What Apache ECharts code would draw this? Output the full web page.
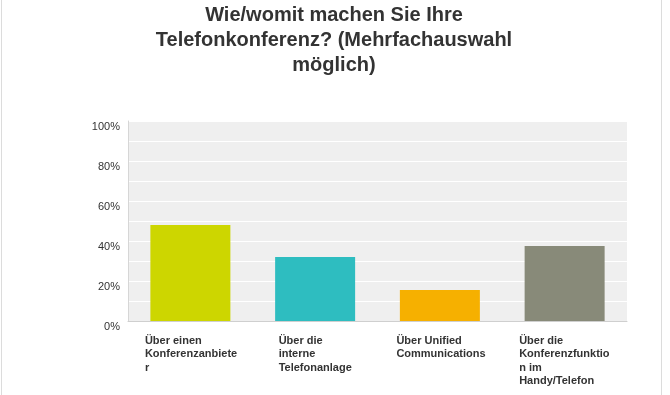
<!DOCTYPE html>
<html>
<head>
<meta charset="utf-8">
<script src="https://cdn.jsdelivr.net/npm/echarts@6/dist/echarts.min.js"></script>
<style>
html,body{margin:0;padding:0;background:#fff;}
#chart{width:670px;height:395px;}
</style>
</head>
<body>
<div id="chart"></div>
<script>
var titleText = 'Wie/womit machen Sie Ihre\nTelefonkonferenz? (Mehrfachauswahl\nmöglich)';
var categories = [
  'Über einen\nKonferenzanbiete\nr',
  'Über die\ninterne\nTelefonanlage',
  'Über Unified\nCommunications',
  'Über die\nKonferenzfunktio\nn im\nHandy/Telefon'
];
var values = [48, 32, 15.5, 37.5];
var colors = ['#cdd600', '#2ebdc0', '#f6b000', '#888a79'];
var yTicks = [0, 20, 40, 60, 80, 100];

var labelWidths = [91, 73, 87, 91];
var rich = {};
labelWidths.forEach(function (w, i) {
  rich['w' + i] = {width: w, align: 'left', fontSize: 11, fontWeight: 'bold', color: '#333', lineHeight: 13.5, fontFamily: 'Liberation Sans, Arial, sans-serif'};
});

var chart = echarts.init(document.getElementById('chart'), null, {renderer: 'canvas'});
chart.setOption({
  animation: false,
  backgroundColor: '#fff',
  title: {
    text: titleText,
    left: 329,
    textAlign: 'center',
    top: -2,
    textStyle: {fontSize: 20, fontWeight: 'bold', color: '#333', lineHeight: 25, fontFamily: 'Liberation Sans, Arial, sans-serif'}
  },
  graphic: [
    {type: 'line', shape: {x1: 1.5, y1: 0, x2: 1.5, y2: 395}, style: {stroke: '#dcdcdc', lineWidth: 1}},
    {type: 'line', shape: {x1: 661.5, y1: 0, x2: 661.5, y2: 395}, style: {stroke: '#dcdcdc', lineWidth: 1}}
  ],
  grid: {left: 128, right: 43, top: 121, bottom: 74, show: true, backgroundColor: '#efefef', borderWidth: 0},
  xAxis: {
    type: 'category',
    data: categories,
    axisLine: {show: true, lineStyle: {color: '#cfcfcf', width: 1}},
    axisTick: {show: false},
    axisLabel: {
      interval: 0,
      margin: 13,
      formatter: function (v, i) {
        return v.split('\n').map(function (l) { return '{w' + i + '|' + l + '}'; }).join('\n');
      },
      rich: rich
    }
  },
  yAxis: {
    type: 'value',
    min: 0,
    max: 100,
    interval: 10,
    axisLine: {show: true, lineStyle: {color: '#d6d6d6', width: 1}},
    axisTick: {show: false},
    splitLine: {show: true, lineStyle: {color: '#ffffff', width: 1}},
    axisLabel: {
      margin: 8,
      color: '#333',
      fontSize: 11,
      fontFamily: 'Liberation Sans, Arial, sans-serif',
      verticalAlign: 'top',
      lineHeight: 11,
      formatter: function (v) { return yTicks.indexOf(v) >= 0 ? v + '%' : ''; }
    }
  },
  series: [{
    type: 'bar',
    data: values.map(function (v, i) { return {value: v, itemStyle: {color: colors[i]}}; }),
    barWidth: 80
  }]
});
</script>
</body>
</html>
